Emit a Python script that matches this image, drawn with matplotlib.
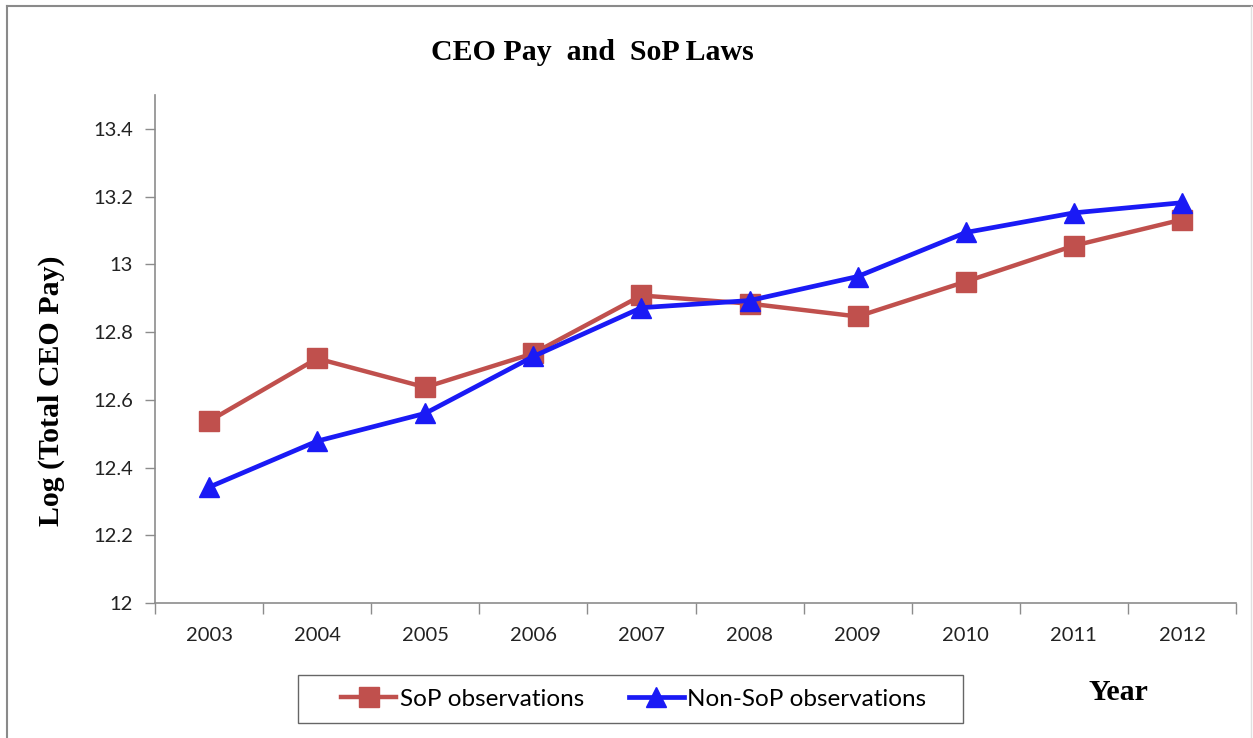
import matplotlib
matplotlib.use("Agg")
import matplotlib.pyplot as plt
from matplotlib.lines import Line2D
from matplotlib.patches import Rectangle

years = ["2003", "2004", "2005", "2006", "2007", "2008", "2009", "2010", "2011", "2012"]
sop_pay = [12.537, 12.722, 12.637, 12.737, 12.908, 12.884, 12.846, 12.949, 13.055, 13.132]
non_sop_pay = [12.342, 12.478, 12.560, 12.728, 12.872, 12.893, 12.964, 13.094, 13.152, 13.182]
y_ticks = [12, 12.2, 12.4, 12.6, 12.8, 13, 13.2, 13.4]
y_tick_labels = ["12", "12.2", "12.4", "12.6", "12.8", "13", "13.2", "13.4"]

RED = "#C0504D"
BLUE = "#1A1AF5"
GREY = "#8C8C8C"
SANS = "Lato"
SERIF = "Liberation Serif"

W, H = 1253, 738
fig = plt.figure(figsize=(W / 100, H / 100), dpi=100)
ax = fig.add_axes([155 / W, 1 - 603 / H, (1236 - 155) / W, (603 - 95) / H])

x = list(range(len(years)))
ax.plot(x, sop_pay, color=RED, lw=3.2, marker="s", ms=14, mec=RED, mfc=RED,
        label="SoP observations", zorder=3)
ax.plot(x, non_sop_pay, color=BLUE, lw=3.4, marker="^", ms=14, mec=BLUE, mfc=BLUE,
        label="Non-SoP observations", zorder=4)

ax.set_xlim(-0.5, len(years) - 0.5)
ax.set_ylim(12, 13.5)

# category axis: ticks between categories, labels in the middle
ax.set_xticks([i - 0.5 for i in range(len(years) + 1)])
ax.set_xticklabels([])
ax.set_xticks(x, minor=True)
ax.set_xticklabels(years, minor=True, fontsize=14.5, family=SANS, color="#222222")
ax.tick_params(axis="x", which="major", length=8, width=1, color=GREY, direction="out")
ax.tick_params(axis="x", which="minor", length=0, pad=17)

ax.set_yticks(y_ticks)
ax.set_yticklabels(y_tick_labels, fontsize=14.5, family=SANS, color="#222222")
ax.tick_params(axis="y", length=7, width=1, color=GREY, direction="out", pad=9)

for side in ["top", "right"]:
    ax.spines[side].set_visible(False)
for side in ["left", "bottom"]:
    ax.spines[side].set_color(GREY)
    ax.spines[side].set_linewidth(1.2)

fig.text(592 / W, 1 - 52 / H, "CEO Pay  and  SoP Laws", ha="center", va="center",
         fontsize=21.5, fontweight="bold", family=SERIF)
fig.text(51 / W, 1 - 391 / H, "Log (Total CEO Pay)", ha="center", va="center",
         rotation=90, fontsize=21.5, fontweight="bold", family=SERIF)
fig.text(1118 / W, 1 - 692 / H, "Year", ha="center", va="center",
         fontsize=21.5, fontweight="bold", family=SERIF)

handles = [
    Line2D([], [], color=RED, lw=3.2, marker="s", ms=14, mec=RED, mfc=RED),
    Line2D([], [], color=BLUE, lw=3.4, marker="^", ms=14, mec=BLUE, mfc=BLUE),
]
leg = fig.legend(handles, ["SoP observations", "Non-SoP observations"],
                 loc="center", bbox_to_anchor=(634 / W, 1 - 699 / H), ncol=2,
                 frameon=False, prop={"family": SANS, "size": 17.5},
                 handlelength=2.25, handletextpad=0.15, columnspacing=1.85,
                 borderpad=0, borderaxespad=0)

# legend box, wider than the entries like the original
fig.add_artist(Rectangle((298 / W, 1 - 723 / H), (963 - 298) / W, (723 - 675) / H,
                         transform=fig.transFigure, fill=False,
                         edgecolor="#666666", lw=1.0))

# outer chart border
fig.add_artist(Line2D([7 / W, 7 / W], [0, 1 - 6 / H], color="#8A8A8A", lw=1.5))
fig.add_artist(Line2D([7 / W, 1], [1 - 6 / H, 1 - 6 / H], color="#8A8A8A", lw=1.5))
fig.add_artist(Line2D([1251 / W, 1251 / W], [0, 1 - 6 / H], color="#E0E0E0", lw=1.0))

fig.savefig("out.png", dpi=100)
